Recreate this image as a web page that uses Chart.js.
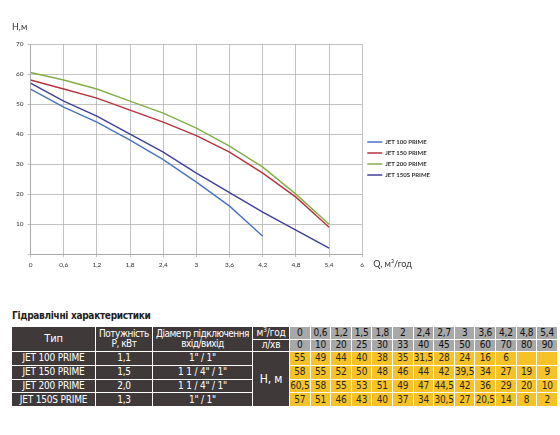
<!DOCTYPE html>
<html>
<head>
<meta charset="utf-8">
<script src="https://cdn.jsdelivr.net/npm/chart.js@4/dist/chart.umd.min.js"></script>
<style>
  body { margin: 0; background: #fff; width: 560px; height: 435px; overflow: hidden; position: relative;
         font-family: "DejaVu Sans", sans-serif; font-stretch: condensed; }
  #box { position: absolute; left: 0; top: 0; width: 560px; height: 290px; }
  #ttl { position: absolute; left: 12px; top: 310px; font-weight: bold; font-size: 10px; color: #222; letter-spacing: -0.3px; }
  #tbl { position: absolute; left: 11px; top: 326px; border-collapse: separate; border-spacing: 1px;
         table-layout: fixed; width: 547px; }
  #tbl td { padding: 0; text-align: center; font-size: 10px; line-height: 10px; white-space: nowrap; overflow: hidden; letter-spacing: -0.2px; }
  #tbl td.n { letter-spacing: -0.5px; }
  .d { background: #3f3a39; color: #fff; }
  .g { background: #a8a8a8; color: #111; }
  .y { background: #f5c228; color: #2a2a2a; }
  tr.h td { height: 11.5px; }
  tr.r td { height: 12.8px; }
</style>
</head>
<body>
<div id="box"><canvas id="pumpChart"></canvas></div>
<div id="ttl">Гідравлічні характеристики</div>
<table id="tbl"></table>
<script>
// flow points, m3/h and l/min
const flow = [0, 0.6, 1.2, 1.5, 1.8, 2, 2.4, 2.7, 3, 3.6, 4.2, 4.8, 5.4];
const flowLpm = [0, 10, 20, 25, 30, 33, 40, 45, 50, 60, 70, 80, 90];

const models = ['JET 100 PRIME', 'JET 150 PRIME', 'JET 200 PRIME', 'JET 150S PRIME'];
const power = ['1,1', '1,5', '2,0', '1,3'];
const ports = ['1" / 1"', '1 1 / 4" / 1"', '1 1 / 4" / 1"', '1" / 1"'];

// head, m
const headJet100 = [55, 49, 44, 40, 38, 35, 31.5, 28, 24, 16, 6, null, null];
const headJet150 = [58, 55, 52, 50, 48, 46, 44, 42, 39.5, 34, 27, 19, 9];
const headJet200 = [60.5, 58, 55, 53, 51, 49, 47, 44.5, 42, 36, 29, 20, 10];
const headJet150s = [57, 51, 46, 43, 40, 37, 34, 30.5, 27, 20.5, 14, 8, 2];

// the graph only uses the flows on the 0,6 grid
const plotFlow = [0, 0.6, 1.2, 1.8, 2.4, 3, 3.6, 4.2, 4.8, 5.4];

const xTicks = [0, 0.6, 1.2, 1.8, 2.4, 3, 3.6, 4.2, 4.8, 5.4, 6];
const yTicks = [0, 10, 20, 30, 40, 50, 60, 70];

const heads = [headJet100, headJet150, headJet200, headJet150s];
const colors = ['#4a73c2', '#b8333c', '#84ae48', '#40409a'];

const comma = v => String(v).replace('.', ',');

const datasets = models.map((name, k) => ({
    label: name,
    data: plotFlow.map(q => ({ x: q, y: heads[k][flow.indexOf(q)] })).filter(p => p.y !== null),
    borderColor: colors[k],
    backgroundColor: colors[k],
    borderWidth: 1.4,
    pointRadius: 0,
    tension: 0
}));

const axisNames = {
    id: 'axisNames',
    afterDraw(chart) {
        const { ctx, chartArea } = chart;
        ctx.save();
        ctx.fillStyle = '#333';
        ctx.textBaseline = 'middle';
        ctx.font = '9px Lato';
        ctx.fillText('Н,м', 12, chartArea.top - 17);
        ctx.fillText('Q, м³/год', chartArea.right + 11, chartArea.bottom + 10);
        ctx.restore();
    }
};

const tickFont = { family: 'Lato', size: 6.5 };

new Chart(document.getElementById('pumpChart'), {
    type: 'line',
    data: { datasets: datasets },
    options: {
        responsive: true,
        maintainAspectRatio: false,
        animation: false,
        layout: { padding: { top: 44, left: 12, right: 120, bottom: 17 } },
        plugins: {
            legend: {
                position: 'right',
                labels: {
                    usePointStyle: true,
                    pointStyle: 'line',
                    pointStyleWidth: 15,
                    padding: 5,
                    color: '#333',
                    font: { family: 'Lato', size: 6, weight: 'bold' }
                }
            },
            tooltip: { enabled: false }
        },
        scales: {
            x: {
                type: 'linear',
                min: 0, max: 6,
                afterBuildTicks: s => { s.ticks = xTicks.map(v => ({ value: v })); },
                ticks: { font: tickFont, color: '#333', padding: 4, maxRotation: 0, callback: comma },
                grid: { color: '#b4b4b4', lineWidth: 0.8, tickLength: 3 },
                border: { color: '#a8a8a8' }
            },
            y: {
                min: 0, max: 70,
                afterBuildTicks: s => { s.ticks = yTicks.map(v => ({ value: v })); },
                ticks: { font: tickFont, color: '#333', padding: 4, callback: v => v === 0 ? '' : v },
                grid: { color: '#b4b4b4', lineWidth: 0.8, tickLength: 3 },
                border: { color: '#a8a8a8' }
            }
        }
    },
    plugins: [axisNames]
});

// table
const tbl = document.getElementById('tbl');
let html = '<colgroup><col style="width:83px"><col style="width:56px"><col style="width:99px"><col style="width:36px">'
    + flow.map(() => '<col>').join('') + '</colgroup>';
html += '<tr class="h"><td class="d" rowspan="2" style="font-size:11px">Тип</td><td class="d n" rowspan="2">Потужність<br>Р, кВт</td>'
    + '<td class="d n" rowspan="2">Діаметр підключення<br>вхід/вихід</td><td class="d">м<sup style="font-size:7px;line-height:0">3</sup>/год</td>'
    + flow.map(q => '<td class="g">' + comma(q) + '</td>').join('') + '</tr>';
html += '<tr class="h"><td class="d">л/хв</td>' + flowLpm.map(v => '<td class="g">' + v + '</td>').join('') + '</tr>';
models.forEach((name, k) => {
    html += '<tr class="r"><td class="d">' + name + '</td><td class="d">' + power[k] + '</td><td class="d">' + ports[k] + '</td>';
    if (k === 0) html += '<td class="d" rowspan="4" style="font-size:12px">Н, м</td>';
    html += heads[k].map(v => '<td class="y">' + (v === null ? '' : comma(v)) + '</td>').join('') + '</tr>';
});
tbl.innerHTML = html;
</script>
</body>
</html>
